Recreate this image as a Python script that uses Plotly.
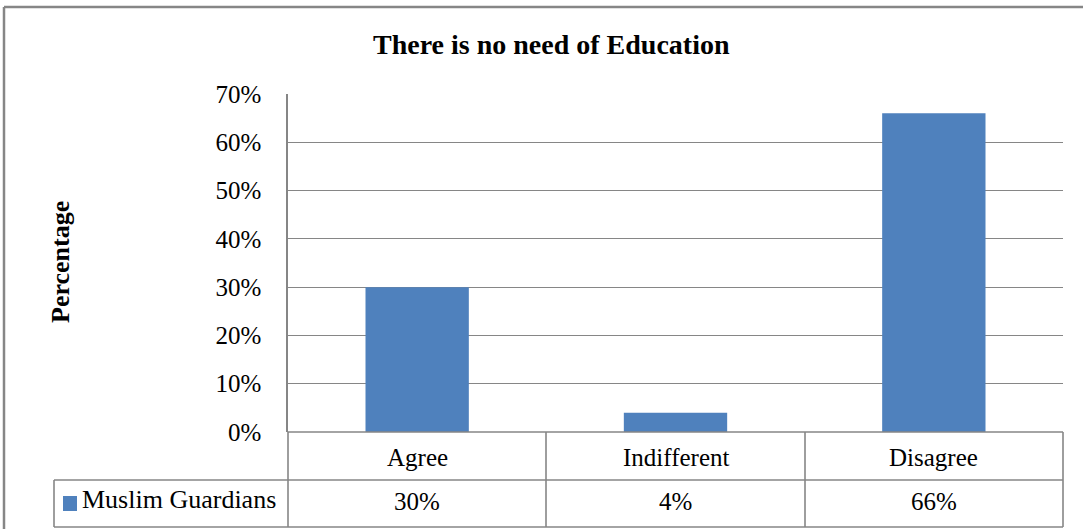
import plotly.graph_objects as go

categories = ["Agree", "Indifferent", "Disagree"]
values = [0.30, 0.04, 0.66]
series_name = "Muslim Guardians"
title_text = "There is no need of Education"
y_title = "Percentage"

W, H = 1083, 529
def px(x):
    return x / W
def py(y):
    return 1 - y / H

BLUE = "#4F81BD"
GRID = "#868686"
FONT = "Liberation Serif, Times New Roman, serif"

fig = go.Figure()
fig.add_trace(go.Bar(x=categories, y=values, marker=dict(color=BLUE, line=dict(width=0)),
                     name=series_name, showlegend=False))

plot_top, plot_bot = 94, 432
fig.update_layout(
    width=W, height=H, margin=dict(l=0, r=0, t=0, b=0, autoexpand=False),
    paper_bgcolor="white", plot_bgcolor="white",
    bargap=0.6,
    font=dict(family=FONT, color="black", size=25),
    xaxis=dict(domain=[px(288), px(1063)], showticklabels=False, ticks="",
               showgrid=False, zeroline=False, showline=False, automargin=False),
    yaxis=dict(domain=[py(plot_bot), py(plot_top)], range=[0, 0.7], dtick=0.1,
               tickformat=".0%", showgrid=True, gridcolor=GRID, gridwidth=1.3,
               zeroline=False, showline=True, linecolor=GRID, linewidth=1.5,
               ticks="", ticklabelstandoff=20, automargin=False,
               tickfont=dict(family=FONT, size=25, color="black")),
)

shapes = []
def line(x0, y0, x1, y1, w=1.6):
    shapes.append(dict(type="line", xref="paper", yref="paper",
                       x0=px(x0), y0=py(y0), x1=px(x1), y1=py(y1),
                       line=dict(color=GRID, width=w)))

# outer chart border
line(4, 7, W + 5, 7, 2.5)
line(4, 7, 4, H + 5, 2.5)
# data table
line(288, 432, 1063, 432)
line(54, 480, 1063, 480)
line(54, 527, 1063, 527)
line(54, 480, 54, 527)
for xv in [288, 546, 805, 1063]:
    line(xv, 432, xv, 527)
# legend key
shapes.append(dict(type="rect", xref="paper", yref="paper",
                   x0=px(63), x1=px(77), y0=py(511), y1=py(496),
                   fillcolor=BLUE, line=dict(width=0)))
fig.update_layout(shapes=shapes)

ann = []
ann.append(dict(text="<b>" + title_text + "</b>", xref="paper", yref="paper",
                x=px(551), y=py(44), showarrow=False, xanchor="center", yanchor="middle",
                font=dict(family=FONT, size=28, color="black")))
ann.append(dict(text="<b>" + y_title + "</b>", xref="paper", yref="paper",
                x=px(60), y=py(262), showarrow=False, textangle=-90,
                xanchor="center", yanchor="middle",
                font=dict(family=FONT, size=26, color="black")))
for c, v in zip(categories, values):
    ann.append(dict(text=c, xref="x", yref="paper", x=c, y=py(457), showarrow=False,
                    xanchor="center", yanchor="middle", font=dict(family=FONT, size=25)))
    ann.append(dict(text=f"{round(v*100)}%", xref="x", yref="paper", x=c, y=py(501),
                    showarrow=False, xanchor="center", yanchor="middle",
                    font=dict(family=FONT, size=25)))
ann.append(dict(text=series_name, xref="paper", yref="paper", x=px(80), y=py(499),
                showarrow=False, xanchor="left", yanchor="middle",
                font=dict(family=FONT, size=26)))
fig.update_layout(annotations=ann)

fig.write_html("out.html")
